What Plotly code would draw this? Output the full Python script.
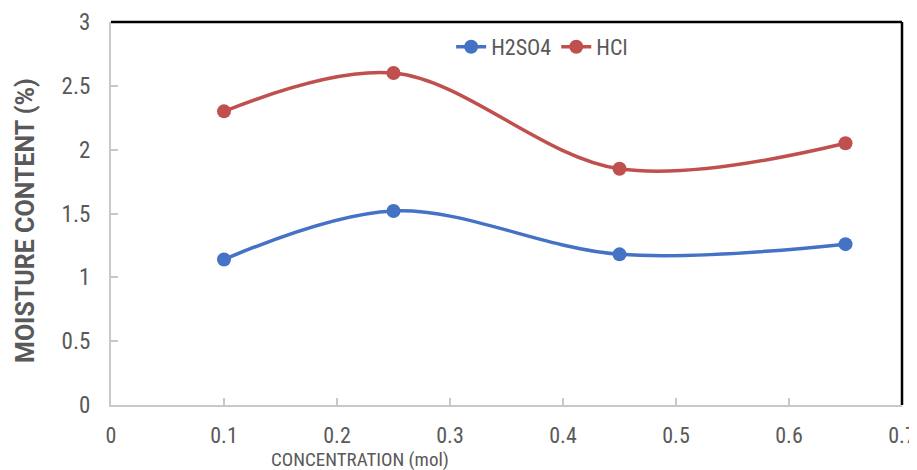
import plotly.graph_objects as go

concentration = [0.1, 0.25, 0.45, 0.65]
h2so4 = [1.14, 1.52, 1.18, 1.26]
hcl = [2.30, 2.60, 1.85, 2.05]
x_ticks = [0, 0.1, 0.2, 0.3, 0.4, 0.5, 0.6, 0.7]
y_ticks = [0, 0.5, 1, 1.5, 2, 2.5, 3]
x_title = "CONCENTRATION (mol)"
y_title = "MOISTURE CONTENT (%)"

font_family = "Roboto Condensed, Roboto, sans-serif"
grey = "#595959"
axis_grey = "#C8C8C8"

fig = go.Figure()
fig.add_trace(go.Scatter(x=concentration, y=h2so4, name="H2SO4", mode="lines+markers",
                         line=dict(color="#4472C4", width=3.5, shape="spline", smoothing=1),
                         marker=dict(size=14, color="#4472C4")))
fig.add_trace(go.Scatter(x=concentration, y=hcl, name="HCl", mode="lines+markers",
                         line=dict(color="#C0504D", width=3.5, shape="spline", smoothing=1),
                         marker=dict(size=14, color="#C0504D")))

fig.update_layout(
    width=909, height=462,
    margin=dict(l=103, r=15, t=14, b=65, autoexpand=False),
    plot_bgcolor="white", paper_bgcolor="white",
    font=dict(family=font_family, color=grey, size=22),
    legend=dict(orientation="h", x=0.43, y=0.935, xanchor="left", yanchor="middle",
                font=dict(size=22, color=grey), bgcolor="rgba(0,0,0,0)"),
    xaxis=dict(range=[0, 0.7], tickvals=x_ticks, ticktext=[str(v) for v in x_ticks],
               showgrid=False, zeroline=False, showline=True, linecolor=axis_grey, linewidth=2,
               ticks="inside", ticklen=7, tickwidth=2, tickcolor=axis_grey, automargin=False,
               ticklabelstandoff=10,
               tickfont=dict(size=22, color=grey)),
    yaxis=dict(range=[0, 3], tickvals=y_ticks, ticktext=[str(v) for v in y_ticks],
               showgrid=False, zeroline=False, showline=True, linecolor=axis_grey, linewidth=2,
               ticks="inside", ticklen=7, tickwidth=2, tickcolor=axis_grey, automargin=False,
               ticklabelstandoff=14,
               tickfont=dict(size=23, color=grey)),
    showlegend=True,
)
fig.add_shape(type="line", xref="paper", yref="paper", x0=0, x1=1, y0=1, y1=1,
              line=dict(color="black", width=2.5))
fig.add_shape(type="line", xref="paper", yref="paper", x0=1, x1=1, y0=0, y1=1,
              line=dict(color="black", width=2.5))
fig.add_annotation(text=x_title, xref="paper", yref="paper", x=(360 - 111) / 791, y=0,
                   yshift=-54, xanchor="center", yanchor="middle", showarrow=False,
                   font=dict(size=19, color=grey))
fig.add_annotation(text=f"<b>{y_title}</b>", xref="paper", yref="paper", x=0, y=(405 - 221) / 383,
                   xshift=-86, xanchor="center", yanchor="middle", showarrow=False, textangle=-90,
                   font=dict(family="Roboto, sans-serif", size=25, color=grey))

fig.write_html("out.html")
